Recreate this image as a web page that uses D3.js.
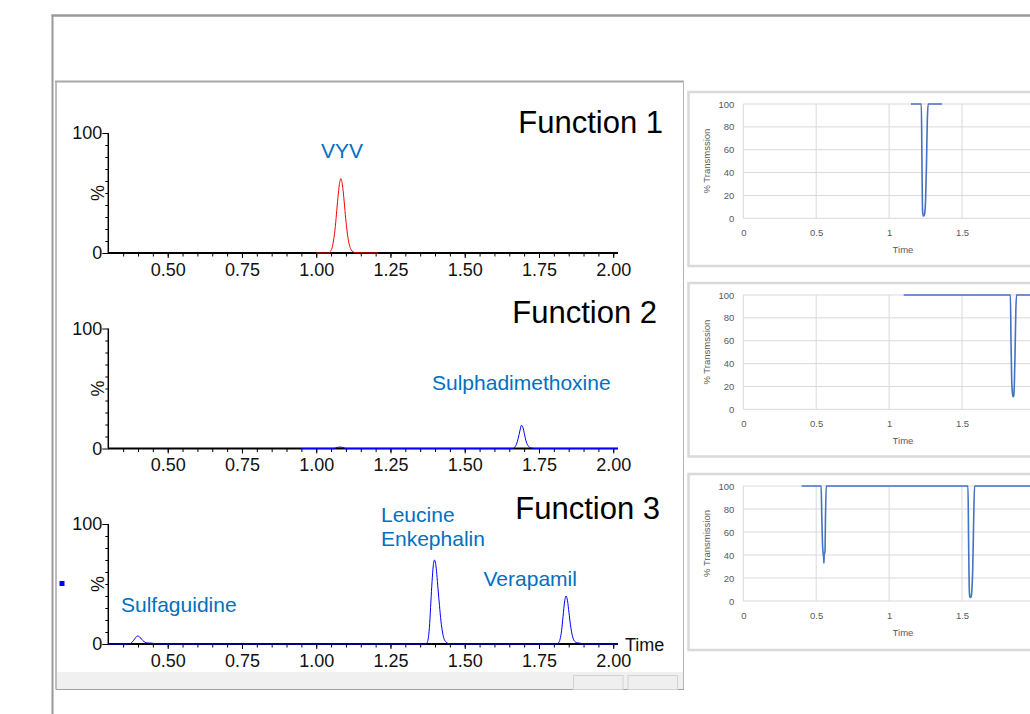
<!DOCTYPE html>
<html><head><meta charset="utf-8">
<script src="https://cdn.jsdelivr.net/npm/d3@7"></script>
<style>html,body{margin:0;padding:0;background:#fff;} svg{display:block;}</style>
</head><body><svg id="c" width="1030" height="714"></svg>
<script>
// ---------------- data ----------------
const xMajorTicks = [0.50, 0.75, 1.00, 1.25, 1.50, 1.75, 2.00];
const yLabelTicks = [0, 100];
const fnTitles = ["Function 1", "Function 2", "Function 3"];

// Function 1 (VYV), red trace
const f1Time = [1.000, 1.044, 1.048, 1.053, 1.058, 1.063, 1.068, 1.073, 1.078, 1.083, 1.088, 1.093, 1.098, 1.103, 1.108, 1.113, 1.118, 1.124, 1.132, 1.210];
const f1Int  = [0, 0, 1.5, 4, 10, 19, 32, 46, 57, 62, 57, 46, 32, 20, 11, 5.5, 2.5, 1, 0.2, 0];

// Function 2 (Sulphadimethoxine), blue trace
const f2Time = [0.950, 1.060, 1.070, 1.080, 1.090, 1.100, 1.662, 1.668, 1.674, 1.680, 1.686, 1.691, 1.696, 1.701, 1.706, 1.712, 1.718, 1.725, 1.735, 2.016];
const f2Int  = [0, 0, 0.8, 1.2, 0.8, 0, 0, 1, 3.5, 8.5, 15, 19.4, 17.5, 12, 6.5, 2.8, 1, 0.4, 0, 0];

// Function 3 (Sulfaguidine, Leucine Enkephalin, Verapamil), blue trace
const f3Time = [0.300, 0.372, 0.380, 0.388, 0.395, 0.400, 0.405, 0.412, 0.420, 0.428, 0.437, 0.447, 0.457, 0.465,
                1.368, 1.374, 1.378, 1.382, 1.386, 1.390, 1.394, 1.398, 1.402, 1.406, 1.410, 1.415, 1.420, 1.425, 1.430, 1.436, 1.443, 1.452,
                1.810, 1.816, 1.821, 1.826, 1.831, 1.836, 1.841, 1.846, 1.851, 1.856, 1.861, 1.866, 1.872, 1.880, 1.890, 1.898,
                2.016];
const f3Int  = [0, 0, 1.5, 4, 6.2, 6.7, 6, 4, 2, 1, 0.8, 0.7, 0.3, 0,
                0, 1.5, 6, 17, 35, 52, 65, 70, 67, 58, 46, 32, 19, 10, 4.5, 1.8, 0.6, 0,
                0, 1, 4, 11, 23, 35, 40, 36, 26, 16, 8.5, 4, 1.8, 1, 0.6, 0,
                0];

// Right-hand transmission panels
const rXGrid = [0, 0.5, 1, 1.5, 2];
const rXTickLabels = [0, 0.5, 1, 1.5];
const rYTicks = [0, 20, 40, 60, 80, 100];
const rYTitles = ["% Transmssion", "% Transmssion", "% Transmission"];
const r1Time = [1.150, 1.221, 1.225, 1.229, 1.234, 1.240, 1.245, 1.250, 1.256, 1.262, 1.268, 1.363];
const r1Val  = [100, 100, 55, 8, 2, 2.5, 5, 15, 45, 85, 100, 100];
const r2Time = [1.100, 1.832, 1.836, 1.841, 1.846, 1.851, 1.855, 1.859, 1.864, 1.869, 1.874, 2.050];
const r2Val  = [100, 100, 60, 25, 14, 11, 12, 22, 50, 85, 100, 100];
const r3Time = [0.400, 0.534, 0.538, 0.543, 0.548, 0.551, 0.553, 0.555, 0.560, 0.564, 0.569, 1.541, 1.545, 1.549, 1.553, 1.558, 1.563, 1.568, 1.574, 1.580, 1.586, 2.050];
const r3Val  = [100, 100, 75, 50, 41, 38, 33, 41, 42, 75, 100, 100, 55, 15, 4, 3, 4, 10, 30, 70, 100, 100];

// compound annotations
const peakLabels = [
  {panel: 0, lines: ["VYV"], x: 342, anchor: "middle"},
  {panel: 1, lines: ["Sulphadimethoxine"], x: 432, anchor: "start"},
  {panel: 2, lines: ["Sulfaguidine"], x: 121, anchor: "start"},
  {panel: 2, lines: ["Leucine", "Enkephalin"], x: 381, anchor: "start"},
  {panel: 2, lines: ["Verapamil"], x: 483.5, anchor: "start"}
];
const peakLabelY = [158, 390, 612, 522, 586];

// ---------------- drawing ----------------
const svg = d3.select('#c');
const FONT = '"Liberation Sans", Arial, sans-serif';
svg.append('rect').attr('width', 1030).attr('height', 714).attr('fill', '#fff');

// window frames
svg.append('line').attr('x1', 51.5).attr('x2', 1030).attr('y1', 15.5).attr('y2', 15.5).attr('stroke', '#9a9a9a').attr('stroke-width', 2.5);
svg.append('line').attr('x1', 52.5).attr('x2', 52.5).attr('y1', 15).attr('y2', 714).attr('stroke', '#9a9a9a').attr('stroke-width', 2);
svg.append('line').attr('x1', 55).attr('x2', 684).attr('y1', 81.5).attr('y2', 81.5).attr('stroke', '#a8a8a8').attr('stroke-width', 2);
svg.append('line').attr('x1', 56).attr('x2', 56).attr('y1', 81).attr('y2', 689.5).attr('stroke', '#a8a8a8').attr('stroke-width', 1.5);
svg.append('line').attr('x1', 683.5).attr('x2', 683.5).attr('y1', 81).attr('y2', 689.5).attr('stroke', '#b4b4b4').attr('stroke-width', 1);
svg.append('rect').attr('x', 57).attr('y', 672).attr('width', 626).attr('height', 17).attr('fill', '#f0f0f0');
svg.append('line').attr('x1', 56).attr('x2', 684).attr('y1', 689.5).attr('y2', 689.5).attr('stroke', '#a0a0a0').attr('stroke-width', 1);
[[573.5, 623], [628, 677.5]].forEach(([a, b]) => {
  svg.append('rect').attr('x', a).attr('y', 675.5).attr('width', b - a).attr('height', 14).attr('fill', '#efefef').attr('stroke', '#d2d2d2').attr('stroke-width', 1);
});
svg.append('rect').attr('x', 59.5).attr('y', 581).attr('width', 5).attr('height', 5).attr('fill', '#0000ff');

// left MassLynx-style chromatograms
const xL = d3.scaleLinear().domain([0.3, 2.016]).range([108.3, 618]);
const leftPanels = [
  {y0: 253, y100: 133, time: f1Time, val: f1Int, color: '#ff0000', titleX: 663, titleY: 133},
  {y0: 448.5, y100: 328.5, time: f2Time, val: f2Int, color: '#0000ff', titleX: 657, titleY: 323},
  {y0: 644, y100: 524, time: f3Time, val: f3Int, color: '#0000ff', titleX: 660, titleY: 519}
];
const xMinor = d3.range(0.35, 2.0001, 0.05);
const yMinor = d3.range(10, 100, 10);

leftPanels.forEach((p, i) => {
  const y = d3.scaleLinear().domain([0, 100]).range([p.y0, p.y100]);
  const g = svg.append('g').attr('font-family', FONT);

  const gxm = g.append('g').attr('transform', `translate(0,${p.y0})`)
    .call(d3.axisBottom(xL).tickValues(xMinor).tickSize(3.5).tickFormat(''));
  gxm.select('.domain').remove();
  const gx = g.append('g').attr('transform', `translate(0,${p.y0})`)
    .call(d3.axisBottom(xL).tickValues(xMajorTicks).tickSize(5).tickPadding(5).tickFormat(d3.format('.2f')));
  gx.select('.domain').remove();
  gx.selectAll('text').attr('font-size', 18).attr('fill', '#111').attr('font-family', FONT);

  const gym = g.append('g').attr('transform', 'translate(108.3,0)')
    .call(d3.axisLeft(y).tickValues(yMinor).tickSize(3).tickFormat(''));
  gym.select('.domain').remove();
  const gy = g.append('g').attr('transform', 'translate(108.3,0)')
    .call(d3.axisLeft(y).tickValues(yLabelTicks).tickSize(6).tickPadding(0));
  gy.select('.domain').remove();
  gy.selectAll('text').attr('font-size', 18).attr('fill', '#111').attr('font-family', FONT);
  g.selectAll('.tick line').attr('stroke', '#000');

  g.append('line').attr('x1', 108.3).attr('x2', 108.3).attr('y1', p.y100).attr('y2', p.y0).attr('stroke', '#000').attr('stroke-width', 1.5);
  g.append('line').attr('x1', 108).attr('x2', 618).attr('y1', p.y0).attr('y2', p.y0).attr('stroke', '#000').attr('stroke-width', 2);

  g.append('text').attr('transform', `translate(103.5,${(p.y0 + p.y100) / 2}) rotate(-90)`)
    .attr('text-anchor', 'middle').attr('font-size', 18).attr('fill', '#111').text('%');

  const pts = p.time.map((t, k) => [t, p.val[k]]);
  g.append('path').datum(pts).attr('fill', 'none').attr('stroke', p.color).attr('stroke-width', 1)
    .attr('d', d3.line().x(d => xL(d[0])).y(d => y(d[1])).curve(d3.curveMonotoneX));

  g.append('text').attr('x', p.titleX).attr('y', p.titleY).attr('text-anchor', 'end')
    .attr('font-size', 31).attr('fill', '#000').text(fnTitles[i]);
});

// Time label on bottom panel
svg.append('text').attr('x', 625).attr('y', 651).attr('font-family', FONT).attr('font-size', 18).attr('fill', '#111').text('Time');

// compound labels
peakLabels.forEach((l, i) => {
  const t = svg.append('text').attr('font-family', FONT).attr('font-size', 21).attr('fill', '#0070c0')
    .attr('text-anchor', l.anchor);
  l.lines.forEach((s, k) => {
    t.append('tspan').attr('x', l.x).attr('y', peakLabelY[i] + k * 24).text(s);
  });
});

// right Excel-style panels
const xR = d3.scaleLinear().domain([0, 2]).range([743.3, 1034.9]);
const rightPanels = [
  {top: 92, bottom: 266, y0: 218.3, y100: 104, time: r1Time, val: r1Val},
  {top: 283, bottom: 456.5, y0: 409.3, y100: 295, time: r2Time, val: r2Val},
  {top: 474, bottom: 650, y0: 601, y100: 486, time: r3Time, val: r3Val}
];
rightPanels.forEach((p, i) => {
  const y = d3.scaleLinear().domain([0, 100]).range([p.y0, p.y100]);
  const g = svg.append('g').attr('font-family', FONT);
  g.append('rect').attr('x', 688.5).attr('y', p.top).attr('width', 400).attr('height', p.bottom - p.top)
    .attr('fill', '#fff').attr('stroke', '#d9d9d9').attr('stroke-width', 2.5);
  rYTicks.forEach(v => {
    g.append('line').attr('x1', xR(0)).attr('x2', xR(2)).attr('y1', y(v)).attr('y2', y(v))
      .attr('stroke', '#d9d9d9').attr('stroke-width', 1);
  });
  rXGrid.forEach(v => {
    g.append('line').attr('x1', xR(v)).attr('x2', xR(v)).attr('y1', y(100)).attr('y2', y(0))
      .attr('stroke', '#d9d9d9').attr('stroke-width', 1);
  });
  const gy = g.append('g').attr('transform', `translate(${xR(0)},0)`)
    .call(d3.axisLeft(y).tickValues(rYTicks).tickSize(0).tickPadding(9));
  gy.select('.domain').remove();
  gy.selectAll('text').attr('font-size', 9.5).attr('fill', '#595959').attr('font-family', FONT);
  const gx = g.append('g').attr('transform', `translate(0,${p.y0})`)
    .call(d3.axisBottom(xR).tickValues(rXTickLabels).tickSize(0).tickPadding(11).tickFormat(d3.format('')));
  gx.select('.domain').remove();
  gx.selectAll('text').attr('font-size', 9.5).attr('fill', '#595959').attr('font-family', FONT);

  g.append('text').attr('x', 903).attr('y', p.y0 + 35).attr('text-anchor', 'middle')
    .attr('font-size', 9.5).attr('fill', '#595959').text('Time');
  g.append('text').attr('transform', `translate(710,${(p.y0 + p.y100) / 2}) rotate(-90)`)
    .attr('text-anchor', 'middle').attr('font-size', 9.5).attr('fill', '#595959').text(rYTitles[i]);

  const pts = p.time.map((t, k) => [t, p.val[k]]);
  g.append('path').datum(pts).attr('fill', 'none').attr('stroke', '#4472c4').attr('stroke-width', 1.6)
    .attr('d', d3.line().x(d => xR(d[0])).y(d => y(d[1])).curve(d3.curveMonotoneX));
});
</script>
</body></html>
